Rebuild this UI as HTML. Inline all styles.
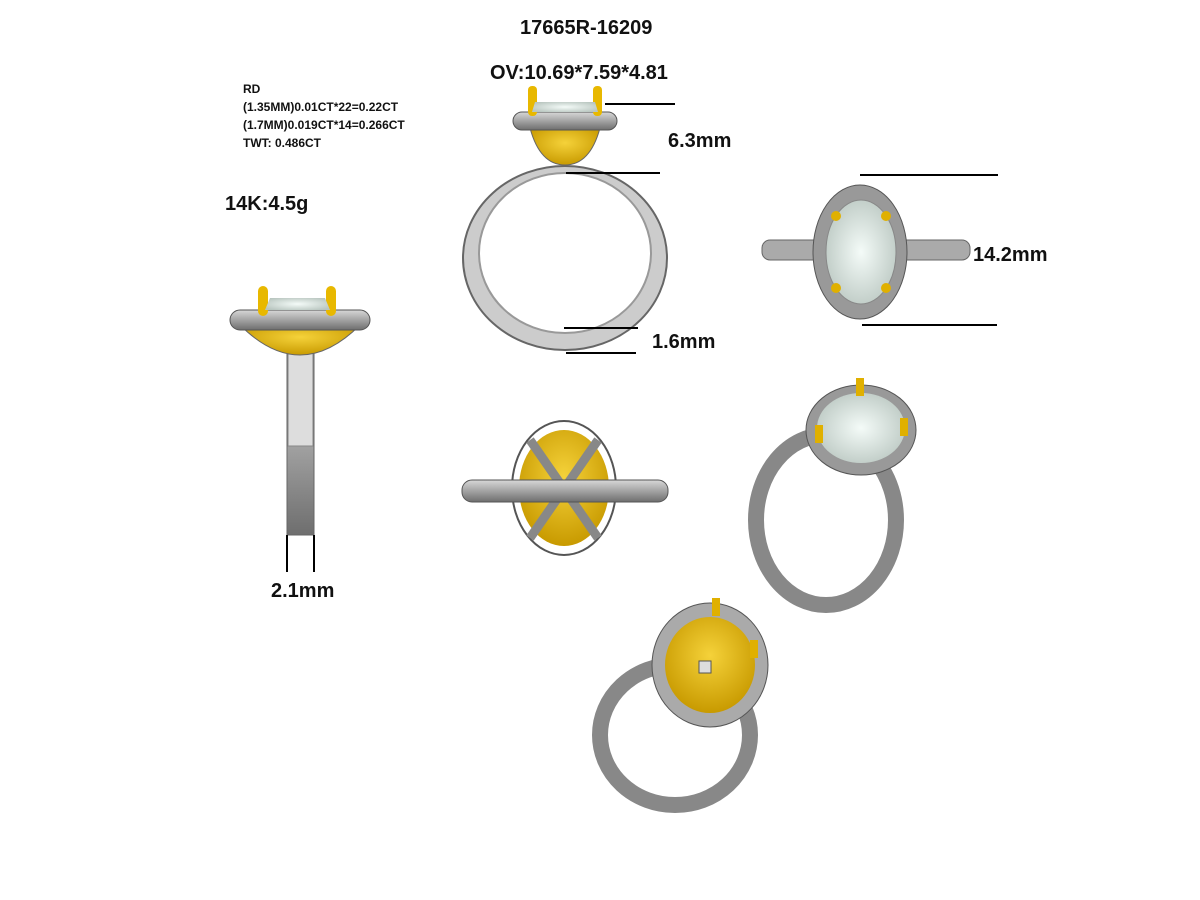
<!DOCTYPE html>
<html><head><style>
body{margin:0;background:#fff;width:1200px;height:900px;overflow:hidden}
svg{display:block}
text{font-family:"Liberation Sans","DejaVu Sans",sans-serif;font-weight:bold;fill:#111}
</style></head><body>
<svg width="1200" height="900" viewBox="0 0 1200 900">
<defs>
<radialGradient id="gy" cx="50%" cy="40%" r="60%"><stop offset="0" stop-color="#f5d23a"/><stop offset="1" stop-color="#c89a00"/></radialGradient>
<radialGradient id="gs" cx="50%" cy="50%" r="60%"><stop offset="0" stop-color="#f4fbf8"/><stop offset="1" stop-color="#b9c6c0"/></radialGradient>
<linearGradient id="gm" x1="0" y1="0" x2="0" y2="1"><stop offset="0" stop-color="#d8d8d8"/><stop offset="1" stop-color="#6e6e6e"/></linearGradient>
</defs>
<text x="520" y="34" font-size="20">17665R-16209</text>
<text x="490" y="79" font-size="20">OV:10.69*7.59*4.81</text>
<text x="243" y="93" font-size="12">RD</text>
<text x="243" y="111" font-size="12">(1.35MM)0.01CT*22=0.22CT</text>
<text x="243" y="129" font-size="12">(1.7MM)0.019CT*14=0.266CT</text>
<text x="243" y="147" font-size="12">TWT:  0.486CT</text>
<text x="225" y="210" font-size="20">14K:4.5g</text>
<text x="668" y="147" font-size="20">6.3mm</text>
<text x="522" y="263" font-size="20">US:6.5#</text>
<text x="973" y="261" font-size="20">14.2mm</text>
<text x="652" y="348" font-size="20">1.6mm</text>
<text x="271" y="597" font-size="20">2.1mm</text>
<!-- front view -->
<ellipse cx="565" cy="258" rx="102" ry="92" fill="#ccc" stroke="#666" stroke-width="2"/>
<ellipse cx="565" cy="253" rx="86" ry="80" fill="#fff" stroke="#999" stroke-width="2"/>
<path d="M530 128 Q540 165 565 165 Q590 165 600 128 Z" fill="url(#gy)" stroke="#666"/>
<rect x="513" y="112" width="104" height="18" rx="9" fill="url(#gm)" stroke="#555"/>
<rect x="528" y="86" width="9" height="30" rx="4" fill="#e8b800"/><rect x="593" y="86" width="9" height="30" rx="4" fill="#e8b800"/>
<path d="M535 102 L595 102 L598 112 L532 112Z" fill="url(#gs)"/>
<!-- side view -->
<rect x="287" y="350" width="27" height="185" fill="url(#gm)" stroke="#666"/>
<rect x="288" y="336" width="25" height="110" fill="#ddd" stroke="#888"/>
<path d="M240 325 Q270 355 300 355 Q330 355 360 325Z" fill="url(#gy)" stroke="#666"/>
<rect x="230" y="310" width="140" height="20" rx="10" fill="url(#gm)" stroke="#555"/>
<rect x="258" y="286" width="10" height="30" rx="5" fill="#e8b800"/><rect x="326" y="286" width="10" height="30" rx="5" fill="#e8b800"/>
<path d="M270 298 L325 298 L330 310 L265 310Z" fill="url(#gs)"/>
<!-- top view -->
<rect x="762" y="240" width="208" height="20" rx="8" fill="#aaa" stroke="#666"/>
<ellipse cx="860" cy="252" rx="47" ry="67" fill="#999" stroke="#555"/>
<ellipse cx="861" cy="252" rx="35" ry="52" fill="url(#gs)" stroke="#888"/>
<g fill="#e0b000"><circle cx="836" cy="216" r="5"/><circle cx="886" cy="216" r="5"/><circle cx="836" cy="288" r="5"/><circle cx="886" cy="288" r="5"/></g>
<!-- bottom view -->
<ellipse cx="564" cy="488" rx="52" ry="67" fill="#fff" stroke="#555" stroke-width="2"/>
<ellipse cx="564" cy="488" rx="45" ry="58" fill="url(#gy)"/>
<g stroke="#888" stroke-width="9"><line x1="530" y1="440" x2="598" y2="538"/><line x1="598" y1="440" x2="530" y2="538"/></g>
<rect x="462" y="480" width="206" height="22" rx="10" fill="url(#gm)" stroke="#555"/>
<!-- 3D ring 1 -->
<ellipse cx="826" cy="520" rx="70" ry="85" fill="none" stroke="#888" stroke-width="16"/>
<ellipse cx="861" cy="430" rx="55" ry="45" fill="#999" stroke="#555"/>
<ellipse cx="861" cy="428" rx="44" ry="35" fill="url(#gs)"/>
<g fill="#e0b000"><rect x="856" y="378" width="8" height="18"/><rect x="900" y="418" width="8" height="18"/><rect x="815" y="425" width="8" height="18"/></g>
<!-- 3D ring 2 -->
<ellipse cx="675" cy="735" rx="75" ry="70" fill="none" stroke="#888" stroke-width="16"/>
<ellipse cx="710" cy="665" rx="58" ry="62" fill="#aaa" stroke="#555"/>
<ellipse cx="710" cy="665" rx="45" ry="48" fill="url(#gy)"/>
<rect x="699" y="661" width="12" height="12" fill="#ddd" stroke="#555"/>
<g fill="#e0b000"><rect x="712" y="598" width="8" height="18"/><rect x="750" y="640" width="8" height="18"/></g>
<g stroke="#000" stroke-width="2">
<line x1="605" y1="104" x2="675" y2="104"/><line x1="566" y1="173" x2="660" y2="173"/>
<line x1="860" y1="175" x2="998" y2="175"/><line x1="862" y1="325" x2="997" y2="325"/>
<line x1="564" y1="328" x2="638" y2="328"/><line x1="566" y1="353" x2="636" y2="353"/>
<line x1="287" y1="535" x2="287" y2="572"/><line x1="314" y1="535" x2="314" y2="572"/>
</g>
</svg>
</body></html>
